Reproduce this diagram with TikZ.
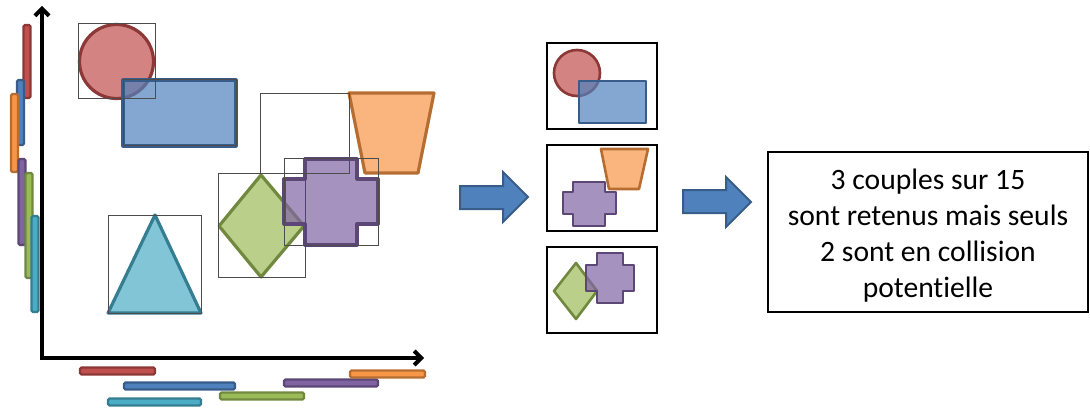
\documentclass[tikz,border=0pt]{standalone}
\usepackage{fontspec}
\setmainfont{Carlito}[Ligatures=NoCommon]
\usetikzlibrary{arrows.meta, positioning}
\definecolor{redA}{HTML}{C0504D}
\definecolor{redD}{HTML}{8C3836}
\definecolor{blueA}{HTML}{4F81BD}
\definecolor{blueD}{HTML}{385D8A}
\definecolor{orangeA}{HTML}{F79646}
\definecolor{orangeD}{HTML}{B66D31}
\definecolor{purpleA}{HTML}{8064A2}
\definecolor{purpleD}{HTML}{5C4776}
\definecolor{greenA}{HTML}{9BBB59}
\definecolor{greenD}{HTML}{71893F}
\definecolor{cyanA}{HTML}{4BACC6}
\definecolor{cyanD}{HTML}{357D91}

\begin{document}
\begin{tikzpicture}[x=1pt, y=-1pt,
        obj/.style={line width=3.2pt, line join=round, fill opacity=0.7},
        bbox/.style={draw=black!70, line width=1pt},
        bar/.style={line width=2.2pt, rounded corners=1.5pt},
        frame/.style={draw, line width=2.8pt, minimum width=110pt, minimum height=86pt, outer sep=0pt},
        blockarrow/.style={fill=blueA, draw=blueD, line width=2pt}]
    \useasboundingbox (0,0) rectangle (1090,409);
    % axes
    \draw[black, line width=4pt, {Straight Barb[length=7pt, width=14pt]}-{Straight Barb[length=7pt, width=14pt]}] (42,6) |- (424,358);
    % projections on y
    \draw[bar, fill=redA, draw=redD] (23.5,25) rectangle (30.5,98);
    \draw[bar, fill=blueA, draw=blueD] (17,80) rectangle (24,145);
    \draw[bar, fill=orangeA, draw=orangeD] (11,94) rectangle (18,172);
    \draw[bar, fill=purpleA, draw=purpleD] (18.5,159) rectangle (25.5,245);
    \draw[bar, fill=greenA, draw=greenD] (25.5,173) rectangle (32.5,278);
    \draw[bar, fill=cyanA, draw=cyanD] (31.5,216) rectangle (38.5,312);
    % projections on x
    \draw[bar, fill=redA, draw=redD] (80,367.5) rectangle (155,374.5);
    \draw[bar, fill=blueA, draw=blueD] (124,382.5) rectangle (235,389.5);
    \draw[bar, fill=cyanA, draw=cyanD] (108,398.5) rectangle (201,405.5);
    \draw[bar, fill=greenA, draw=greenD] (220,392.5) rectangle (304,399.5);
    \draw[bar, fill=purpleA, draw=purpleD] (284,379.5) rectangle (378,386.5);
    \draw[bar, fill=orangeA, draw=orangeD] (350,370.5) rectangle (425,377.5);
    % objects
    \draw[obj, fill=redA, draw=redD] (116.5,61.5) circle[radius=37];
    \draw[obj, fill=blueA, draw=blueD] (123,80) rectangle (236,146);
    \draw[obj, fill=orangeA, draw=orangeD] (349,93) -- (434,93) -- (418,173) -- (365,173) -- cycle;
    \draw[obj, fill=cyanA, draw=cyanD] (155,215) -- (201,313) -- (108,313) -- cycle;
    \draw[obj, fill=greenA, draw=greenD] (261,175) -- (304,226) -- (261,277) -- (219,226) -- cycle;
    \draw[obj, fill=purpleA, draw=purpleD] (305,159) -- (357,159) -- (357,179) -- (378,179) -- (378,224) -- (357,224) -- (357,245) -- (305,245) -- (305,224) -- (284,224) -- (284,179) -- (305,179) -- cycle;
    % bounding boxes
    \draw[bbox] (78,24) rectangle (155,99);
    \draw[bbox] (123,80) rectangle (236,146);
    \draw[bbox] (260,94) rectangle (349,174);
    \draw[bbox] (284,159) rectangle (378,245);
    \draw[bbox] (218,174) rectangle (305,277);
    \draw[bbox] (108,215) rectangle (201,313);
    % retained pairs
    \draw[blockarrow] (460,186) -- (503,186) -- (503,172) -- (528,197) -- (503,222) -- (503,209) -- (460,209) -- cycle;
    \node[frame] (frameA) at (602,86) {};
    \node[frame, below=16pt of frameA] (frameB) {};
    \node[frame, below=16pt of frameB] (frameC) {};
    \draw[obj, line width=2.6pt, fill=redA, draw=redD] (577,73) circle[radius=23];
    \draw[obj, line width=2.6pt, fill=blueA, draw=blueD] (579,81) rectangle (646,123);
    \draw[obj, line width=2.6pt, fill=orangeA, draw=orangeD] (601,149) -- (648,149) -- (639,189) -- (609,189) -- cycle;
    \draw[obj, line width=2.6pt, fill=purpleA, draw=purpleD] (573,182) -- (605,182) -- (605,192) -- (616,192) -- (616,214) -- (605,214) -- (605,226) -- (573,226) -- (573,214) -- (563,214) -- (563,192) -- (573,192) -- cycle;
    \draw[obj, line width=2.6pt, fill=greenA, draw=greenD] (576,263) -- (597,291) -- (576,319) -- (554,291) -- cycle;
    \draw[obj, line width=2.6pt, fill=purpleA, draw=purpleD] (597,253) -- (623,253) -- (623,265) -- (634,265) -- (634,291) -- (623,291) -- (623,303) -- (597,303) -- (597,291) -- (586,291) -- (586,265) -- (597,265) -- cycle;
    % result
    \draw[blockarrow] (683,190) -- (726,190) -- (726,177) -- (751,202) -- (726,227) -- (726,213) -- (683,213) -- cycle;
    \node[draw, line width=2.8pt, minimum width=320pt, minimum height=160pt] (resultbox) at (928,232) {};
    \node[align=center, font=\fontsize{29.6}{36}\selectfont] (resulttext) at ([yshift=-4pt]resultbox.center) {3 couples sur 15\\sont retenus mais seuls\\2 sont en collision\\potentielle};
\end{tikzpicture}
\end{document}
